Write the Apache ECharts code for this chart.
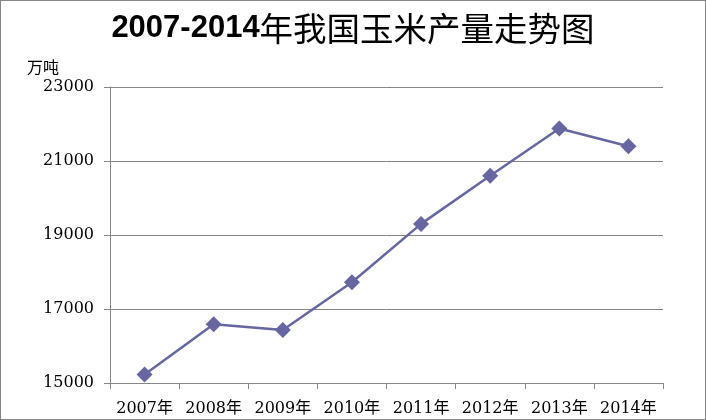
<!DOCTYPE html>
<html><head><meta charset="utf-8">
<script src="https://cdn.jsdelivr.net/npm/echarts@6/dist/echarts.min.js"></script>
<style>html,body{margin:0;padding:0;background:#fff}#c{width:706px;height:420px;box-sizing:border-box;border:1px solid #868686}</style>
</head><body><div id="c"></div>
<script>
var categories = ['2007年','2008年','2009年','2010年','2011年','2012年','2013年','2014年'];
var production = [15230, 16590, 16430, 17725, 19300, 20600, 21880, 21400];
var yTicks = [15000, 17000, 19000, 21000, 23000];
var titleYears = '2007-2014';
var titleText = '年我国玉米产量走势图';
var unit = '万吨';

var chart = echarts.init(document.getElementById('c'));
var labelFont = "'DejaVu Serif','Noto Sans CJK SC',serif";
chart.setOption({
  animation: false,
  title: {
    text: '{a|' + titleYears + '}{b|' + titleText + '}', left: 'center', top: 6,
    textStyle: {
      rich: {
        a: {fontFamily: "'Liberation Sans',sans-serif", fontWeight: 'bold', fontSize: 31, color: '#000'},
        b: {fontFamily: "'Noto Sans CJK SC',sans-serif", fontWeight: 'normal', fontSize: 33.5, color: '#000'}
      }
    }
  },
  grid: {left: 109, right: 42, top: 86, bottom: 36},
  xAxis: {
    type: 'category', data: categories, boundaryGap: true,
    axisLine: {lineStyle: {color: '#868686', width: 1}},
    axisTick: {show: true, length: 6, lineStyle: {color: '#868686'}},
    axisLabel: {interval: 0, margin: 18, color: '#000', fontFamily: labelFont, fontSize: 16}
  },
  yAxis: {
    type: 'value', min: yTicks[0], max: yTicks[yTicks.length - 1], interval: 2000,
    name: unit, nameLocation: 'end', nameGap: 12,
    nameTextStyle: {color: '#000', fontFamily: "'Noto Sans CJK SC',sans-serif", fontSize: 16, align: 'right', padding: [0, 51, 0, 0]},
    axisLine: {show: true, lineStyle: {color: '#868686', width: 1}},
    axisTick: {show: true, length: 6, lineStyle: {color: '#868686'}},
    splitLine: {lineStyle: {color: '#868686', width: 1}},
    axisLabel: {margin: 16, color: '#000', fontFamily: labelFont, fontSize: 16, formatter: function (v) { return String(v); }}
  },
  series: [{
    type: 'line', data: production,
    symbol: 'diamond', symbolSize: 16,
    lineStyle: {color: '#6666A0', width: 2.5},
    itemStyle: {color: '#6666A0'}
  }]
});
</script></body></html>
